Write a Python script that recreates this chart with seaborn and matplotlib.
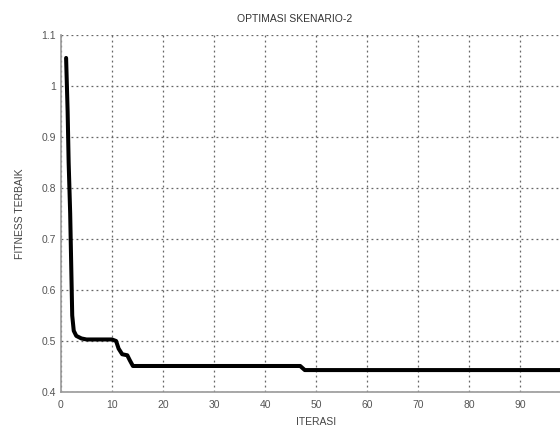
import matplotlib
matplotlib.use("Agg")
import matplotlib.pyplot as plt
import seaborn as sns
import pandas as pd

iterasi = [1, 1.3, 1.5, 1.8, 2.0, 2.2, 2.5, 3, 4, 5, 10, 10.8, 11.3, 12, 13, 13.5, 14.1, 46.9, 47.8, 100]
fitness = [1.055, 0.95, 0.85, 0.75, 0.65, 0.55, 0.52, 0.51, 0.505, 0.503, 0.503, 0.5, 0.485, 0.474, 0.472, 0.462, 0.451, 0.451, 0.443, 0.443]
x_ticks = [0, 10, 20, 30, 40, 50, 60, 70, 80, 90]
y_ticks = [0.4, 0.5, 0.6, 0.7, 0.8, 0.9, 1.0, 1.1]
y_labels = ["0.4", "0.5", "0.6", "0.7", "0.8", "0.9", "1", "1.1"]

sns.set_theme(style="white")
plt.rcParams['font.family'] = ['Liberation Sans', 'DejaVu Sans']

fig = plt.figure(figsize=(5.6, 4.3), dpi=100)
ax = fig.add_axes([61/560, 38/430, 510/560, 357/430])

df = pd.DataFrame({"ITERASI": iterasi, "FITNESS": fitness})
sns.lineplot(data=df, x="ITERASI", y="FITNESS", ax=ax, color="black",
             linewidth=2.9, sort=False, estimator=None)

ax.set_xlim(0, 100)
ax.set_ylim(0.4, 1.1)
ax.set_xticks(x_ticks)
ax.set_yticks(y_ticks)
ax.set_yticklabels(y_labels)
ax.grid(True, linestyle=(0, (1.5, 2.5)), color="#666666", linewidth=0.9)
ax.set_axisbelow(True)
for s in ["top", "right"]:
    ax.spines[s].set_visible(False)
for s in ["left", "bottom"]:
    ax.spines[s].set_color("#999999")
    ax.spines[s].set_linewidth(1.2)
ax.tick_params(direction="in", length=4, colors="#888888", labelcolor="#555555",
               labelsize=7.5, width=0.8)
ax.tick_params(axis="x", pad=6)
ax.set_xlabel("ITERASI", fontsize=7.5, color="#444444", labelpad=5)
ax.set_ylabel("FITNESS TERBAIK", fontsize=7.5, color="#444444", labelpad=12)
ax.set_title("OPTIMASI SKENARIO-2", fontsize=7.5, color="#333333", pad=9, x=0.459)
fig.savefig("out.png", dpi=100)
